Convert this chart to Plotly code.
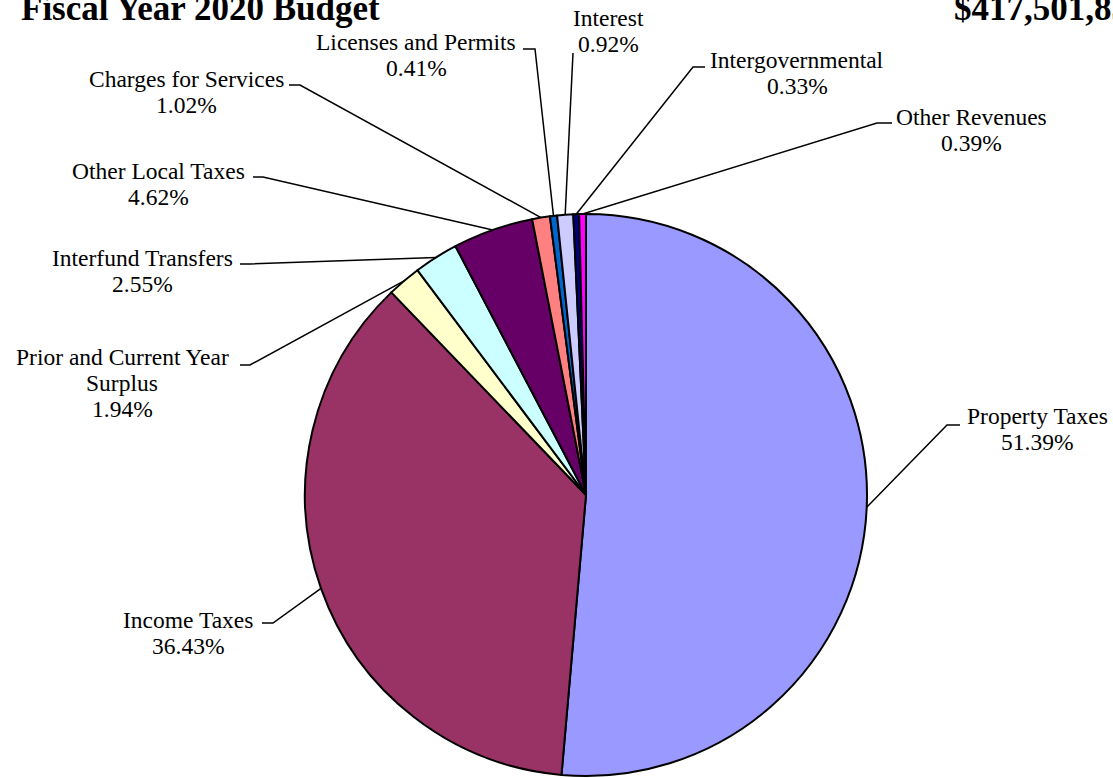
import math
import plotly.graph_objects as go

# ---------------- data ----------------
categories = ["Property Taxes", "Income Taxes", "Prior and Current Year Surplus",
              "Interfund Transfers", "Other Local Taxes", "Charges for Services",
              "Licenses and Permits", "Interest", "Intergovernmental", "Other Revenues"]
shares = [51.39, 36.43, 1.94, 2.55, 4.62, 1.02, 0.41, 0.92, 0.33, 0.39]
colors = ["#9999FF", "#993366", "#FFFFCC", "#CCFFFF", "#660066",
          "#FF8080", "#0066CC", "#CCCCFF", "#000080", "#FF00FF"]
title_left = "Fiscal Year 2020 Budget"
title_right = "$417,501,835"

# ---------------- layout (pixels) ----------------
W, H = 1113, 778
cx, cy, R = 586, 495, 281
wrapped = {"Prior and Current Year Surplus": ["Prior and Current Year", "Surplus"]}
# label: centre x, centre y of first line
label_pos = [(1037, 416), (188, 620), (122, 357), (142, 258), (158, 171),
             (186, 79), (416, 42), (608, 18), (797, 60), (971, 117)]
line_gap = 26
stub_start = [(960, 425), (262, 623), (240, 365), (240, 264), (253, 177),
              (289, 85), (523, 49), (573, 53), (705, 67), (892, 123)]
knee = [(947, 425), (273, 623), (250, 365), (250, 264), (263, 177),
        (300, 85), (535, 49), (573, 53), (693, 67), (877, 123)]

def px(x):
    return x / W

def py(y):
    return 1 - y / H

font_family = "Liberation Serif, Times New Roman, serif"
label_size = 23.5

fig = go.Figure(go.Pie(
    labels=categories, values=shares, sort=False, direction="clockwise", rotation=0,
    marker=dict(colors=colors, line=dict(color="black", width=2)),
    textinfo="none", hoverinfo="label+percent", showlegend=False,
    domain=dict(x=[px(cx - R), px(cx + R)], y=[py(cy + R), py(cy - R)]),
))

total = sum(shares)
annotations = []
shapes = []
cum = 0.0
for i, (name, v) in enumerate(zip(categories, shares)):
    mid = (cum + v / 2) / total * 2 * math.pi
    cum += v
    ax = cx + R * math.sin(mid)
    ay = cy - R * math.cos(mid)
    (sx, sy), (kx, ky) = stub_start[i], knee[i]
    path = f"M {px(sx)} {py(sy)} L {px(kx)} {py(ky)} L {px(ax)} {py(ay)}"
    shapes.append(dict(type="path", xref="paper", yref="paper", path=path,
                       line=dict(color="black", width=1.5)))
    lines = wrapped.get(name, [name]) + [f"{v:.2f}%"]
    lx, ly = label_pos[i]
    for k, t in enumerate(lines):
        annotations.append(dict(
            x=px(lx), y=py(ly + k * line_gap), xref="paper", yref="paper",
            xanchor="center", yanchor="middle", text=t, showarrow=False,
            font=dict(family=font_family, size=label_size, color="black")))

annotations.append(dict(x=px(19), y=py(9), xref="paper", yref="paper", xanchor="left",
                        yanchor="middle", text=f"<b>{title_left}</b>", showarrow=False,
                        font=dict(family=font_family, size=35, color="black")))
annotations.append(dict(x=px(952), y=py(9), xref="paper", yref="paper", xanchor="left",
                        yanchor="middle", text=f"<b>{title_right}</b>", showarrow=False,
                        font=dict(family=font_family, size=35, color="black")))

fig.update_layout(width=W, height=H, margin=dict(l=0, r=0, t=0, b=0),
                  paper_bgcolor="white", plot_bgcolor="white",
                  annotations=annotations, shapes=shapes)
fig.write_html("out.html", config={"displayModeBar": False},
               post_script="document.body.style.margin='0px';")
